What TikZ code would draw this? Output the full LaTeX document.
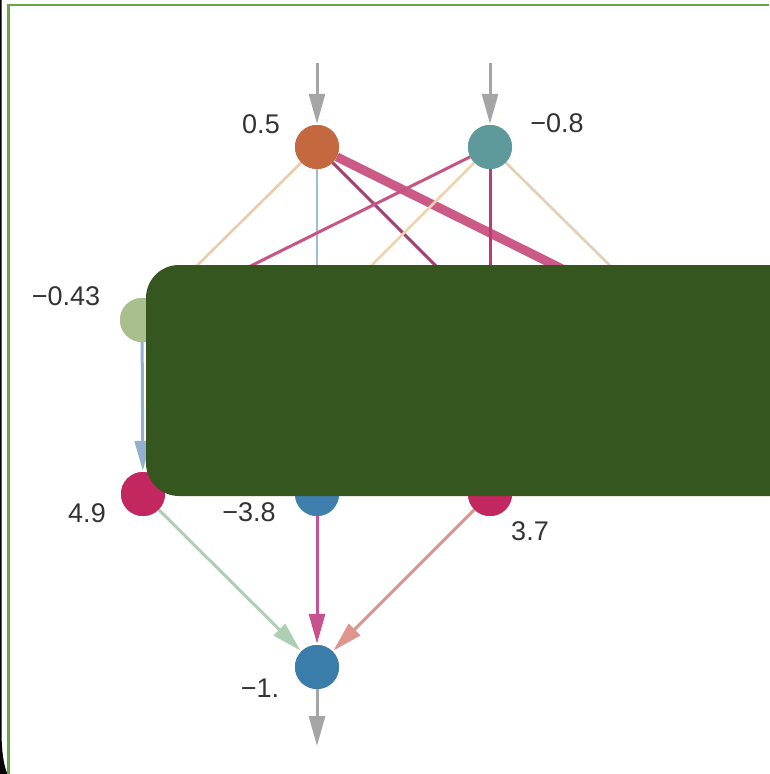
\documentclass[tikz,border=0pt]{standalone}
\usepackage{fontspec}
\setmainfont{Liberation Sans}
\usetikzlibrary{arrows.meta}
\definecolor{orangeN}{HTML}{C4683F}
\definecolor{tealN}{HTML}{5E9A9C}
\definecolor{sageN}{HTML}{A9C08E}
\definecolor{magN}{HTML}{C2275F}
\definecolor{blueN}{HTML}{3F7FAE}
\definecolor{outN}{HTML}{3B7DAA}
\definecolor{tanA}{HTML}{E8CDA8}
\definecolor{tanB}{HTML}{EDD4AE}
\definecolor{tanC}{HTML}{E3CFB4}
\definecolor{ltblue}{HTML}{9EBBD3}
\definecolor{purp}{HTML}{A2436F}
\definecolor{thickpink}{HTML}{CC5A86}
\definecolor{pinkA}{HTML}{C75583}
\definecolor{pinkB}{HTML}{BE3A72}
\definecolor{arrblue}{HTML}{93B0CF}
\definecolor{arrgreen}{HTML}{AFCFB4}
\definecolor{arrpink}{HTML}{C85290}
\definecolor{arrsalmon}{HTML}{DE958D}
\definecolor{arrgray}{HTML}{A5A5A5}
\definecolor{coverGreen}{HTML}{36561F}
\definecolor{borderGreen}{HTML}{66A83F}
\begin{document}
\begin{tikzpicture}[x=1pt,y=-1pt,
  neuron/.style={circle,minimum size=44pt,inner sep=0pt},
  lbl/.style={font=\fontsize{27}{30}\selectfont,text=black!80,inner sep=0pt},
  edge/.style={line width=2.6pt},
  arr/.style={line width=3pt,-{Triangle[length=30pt,width=16pt]},shorten >=1pt}
]
\useasboundingbox (0,0) rectangle (769,774);
\fill[white] (0,0) rectangle (769,774);

% nodes
\node[neuron,fill=orangeN] (o) at (317,147) {};
\node[neuron,fill=tealN] (t) at (490,147) {};
\node[neuron,fill=sageN] (g) at (142,320) {};
\coordinate (m2) at (317,320);
\coordinate (m3) at (490,320);
\coordinate (m4) at (665,320);
\node[neuron,fill=magN] (b1) at (143,494) {};
\node[neuron,fill=blueN] (b2) at (317,494) {};
\node[neuron,fill=magN] (b3) at (490,494) {};
\node[neuron,fill=outN] (out) at (317,667) {};
\coordinate (in1) at (317,63);
\coordinate (in2) at (490,63);
\coordinate (outend) at (317,747);

% edges
\draw[edge,tanA] (o) -- (g);
\draw[edge,ltblue] (o) -- (m2);
\draw[line width=3pt,purp] (o) -- (m3);
\draw[line width=9pt,thickpink] (o) -- (m4);
\draw[line width=3pt,pinkA] (t) -- (g);
\draw[edge,tanB] (t) -- (m2);
\draw[line width=3pt,pinkB] (t) -- (m3);
\draw[edge,tanC] (t) -- (m4);

\draw[arr,arrgray] (in1) -- (o);
\draw[arr,arrgray] (in2) -- (t);
\draw[arr,arrblue] (g) -- (b1);
\draw[arr,arrgreen] (b1) -- (out);
\draw[arr,arrpink] (b2) -- (out);
\draw[arr,arrsalmon] (b3) -- (out);
\draw[arr,arrgray] (out) -- (outend);

% redraw nodes on top
\node[neuron,fill=orangeN] at (o) {};
\node[neuron,fill=tealN] at (t) {};
\node[neuron,fill=sageN] at (g) {};
\node[neuron,fill=magN] at (b1) {};
\node[neuron,fill=blueN] at (b2) {};
\node[neuron,fill=magN] at (b3) {};
\node[neuron,fill=outN] at (out) {};

% labels
\node[lbl] (l1) at (261,124) {0.5};
\node[lbl] (l2) at (557,123) {−0.8};
\node[lbl] (l3) at (66,296) {−0.43};
\node[lbl] (l4) at (87,513) {4.9};
\node[lbl] (l5) at (249,512) {−3.8};
\node[lbl] (l6) at (530,531) {3.7};
\node[lbl] (l7) at (260,688) {−1.};

% cover
\fill[coverGreen,rounded corners=33pt] (146,265) rectangle (820,496);

% frame
\fill[black] (0,0) -- (1.5,0) -- (1.5,735) .. controls (2,755) and (4,766) .. (7.5,774) -- (0,774) -- cycle;
\draw[line width=2.6pt,borderGreen] (8.3,774) -- (8.3,5) -- (769,5);
\end{tikzpicture}
\end{document}
